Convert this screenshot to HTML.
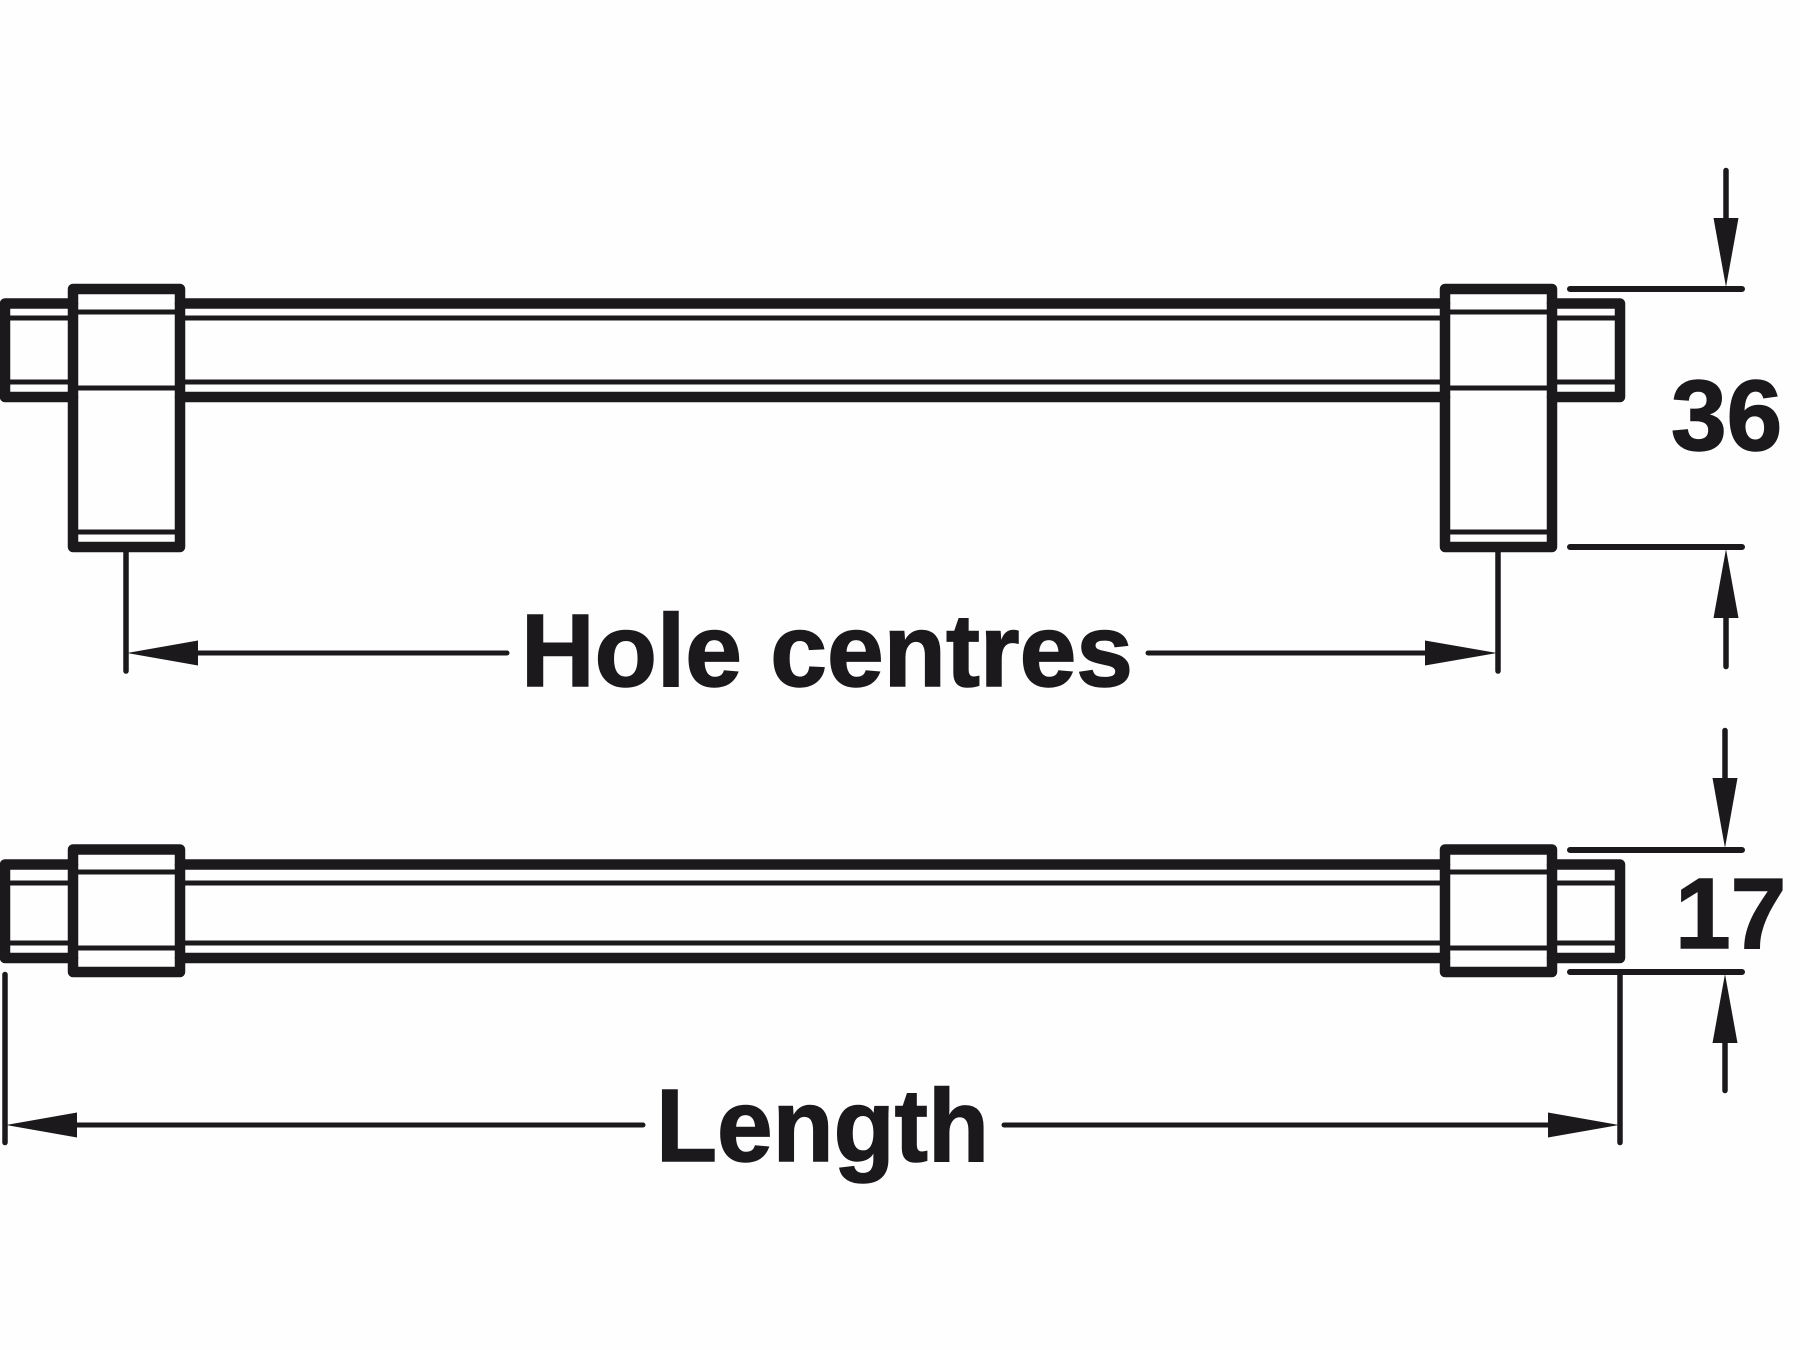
<!DOCTYPE html>
<html><head><meta charset="utf-8"><style>
html,body{margin:0;padding:0;background:#fefefe}
svg{display:block}
text{font-family:"Liberation Sans",Arial,sans-serif;font-weight:700;fill:#1b191c;stroke:#1b191c;stroke-width:1.5}
</style></head><body>
<svg width="1800" height="1350" viewBox="0 0 1800 1350" xmlns="http://www.w3.org/2000/svg">
<rect width="1800" height="1350" fill="#fefefe"/>
<g fill="none" stroke="#1b191c" stroke-linejoin="round" stroke-linecap="round">
<!-- upper handle -->
<g stroke-width="10.5">
<path d="M73 303.5H5V397H73M180 303.5H1445M180 397H1445M1552 303.5H1620V397H1552"/>
<rect x="73" y="289" width="107" height="258"/>
<rect x="1445" y="289" width="107" height="258"/>
</g>
<g stroke-width="5" stroke-linecap="butt">
<path d="M10 318H73M180 318H1445M1552 318H1615M10 382H73M180 382H1445M1552 382H1615"/>
<path d="M73 312H180M1445 312H1552M73 388H180M1445 388H1552M73 532H180M1445 532H1552"/>
</g>
<!-- lower handle -->
<g stroke-width="10.5">
<path d="M73 864.5H5V958H73M180 864.5H1445M180 958H1445M1552 864.5H1620V958H1552"/>
<rect x="73" y="849.5" width="107" height="122.5"/>
<rect x="1445" y="849.5" width="107" height="122.5"/>
</g>
<g stroke-width="5" stroke-linecap="butt">
<path d="M10 883H73M180 883H1445M1552 883H1615M10 943H73M180 943H1445M1552 943H1615"/>
<path d="M73 872H180M1445 872H1552M73 948H180M1445 948H1552"/>
</g>
<!-- dimension lines -->
<g stroke-width="5.5">
<path d="M126 552V671M1498 552V671"/>
<path d="M1726 170.5V220M1726 616V666.5"/>
<path d="M1725 730.5V780M1725 1041V1090.5"/>
<path d="M5 974.5V1142.5M1620 972V1142.5"/>
</g>
<g stroke-width="5">
<path d="M196 653H507M1148 653H1427"/>
<path d="M75 1125H643M1004 1125H1550"/>
</g>
<g stroke-width="6">
<path d="M1570 289H1742M1570 547H1742M1570 850H1742M1570 972H1742"/>
</g>
</g>
<g fill="#1b191c">
<path d="M127 653L198 640.5V665.5ZM1497 653L1425 640.5V665.5Z"/>
<path d="M6 1125L77 1112.5V1137.5ZM1619 1125L1548 1112.5V1137.5Z"/>
<path d="M1726 287L1713.5 218H1738.5ZM1726 549L1713.5 618H1738.5Z"/>
<path d="M1725 848L1712.5 778H1737.5ZM1725 974L1712.5 1043H1737.5Z"/>
</g>
<text x="521" y="686" font-size="103" textLength="612" lengthAdjust="spacingAndGlyphs">Hole centres</text>
<text x="656" y="1161" font-size="103" textLength="333" lengthAdjust="spacingAndGlyphs">Length</text>
<text x="1671" y="450" font-size="100">36</text>
<text x="1675" y="948" font-size="100">17</text>
</svg>
</body></html>
